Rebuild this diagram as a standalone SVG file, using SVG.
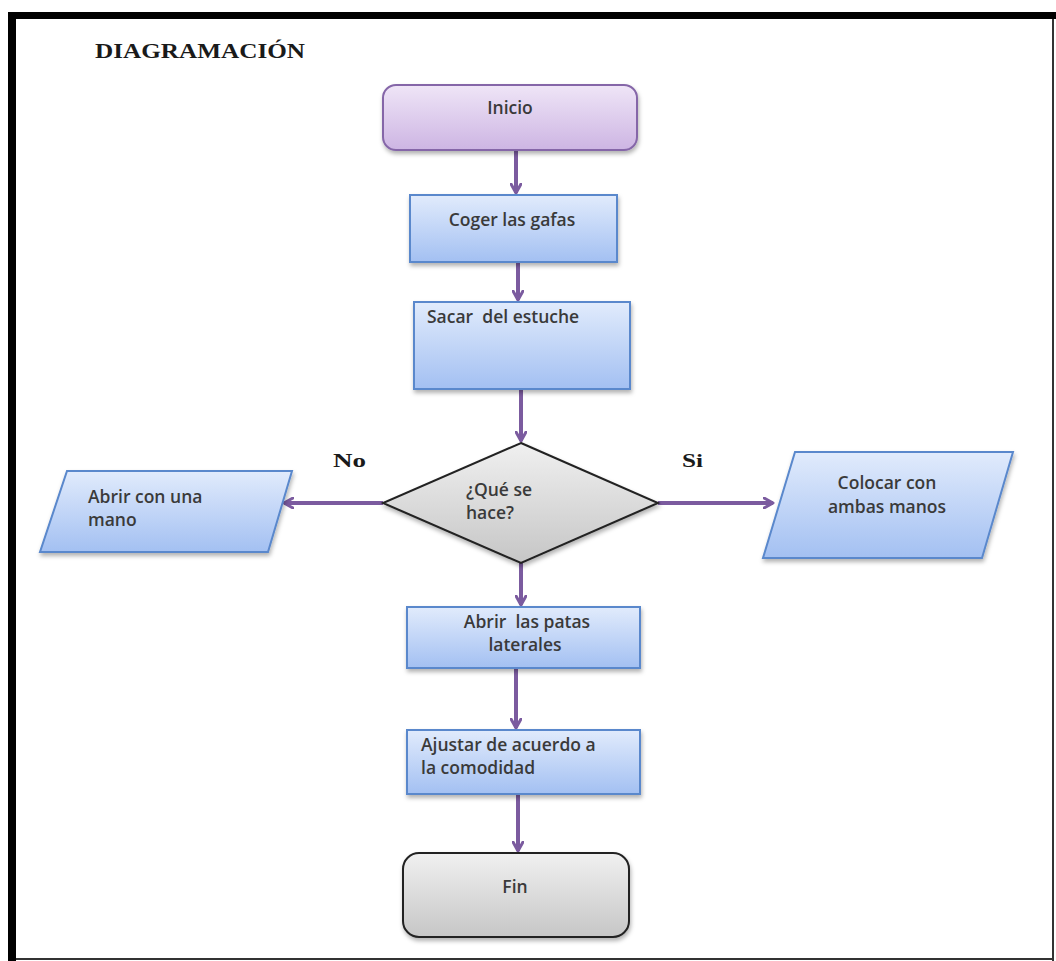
<svg xmlns="http://www.w3.org/2000/svg" width="1056" height="961" viewBox="0 0 1056 961">
<defs>
<linearGradient id="gBlue" x1="0" y1="0" x2="0" y2="1"><stop offset="0" stop-color="#e1ebfc"/><stop offset="1" stop-color="#a3c0f2"/></linearGradient>
<linearGradient id="gPurple" x1="0" y1="0" x2="0" y2="1"><stop offset="0" stop-color="#efe5f7"/><stop offset="1" stop-color="#cdb5e3"/></linearGradient>
<linearGradient id="gGray" x1="0" y1="0" x2="0" y2="1"><stop offset="0" stop-color="#f0f0f0"/><stop offset="1" stop-color="#c6c6c6"/></linearGradient>
<filter id="sh" x="-10%" y="-10%" width="130%" height="140%"><feDropShadow dx="1" dy="3" stdDeviation="2" flood-color="#000" flood-opacity="0.3"/></filter>
<marker id="arr" viewBox="0 0 12 12" refX="10" refY="6" markerWidth="12" markerHeight="12" markerUnits="userSpaceOnUse" orient="auto"><path d="M1,1 L10,6 L1,11" fill="none" stroke="#7b5b9f" stroke-width="3" stroke-linecap="round" stroke-linejoin="round"/></marker>
<style>
.blue{fill:url(#gBlue);stroke:#5a88cc;stroke-width:2}
.t{font-family:"Open Sans","Liberation Sans",sans-serif;font-size:17.5px;font-weight:600;fill:#3a3a3a}
.s{font-family:"Liberation Serif",serif;font-weight:bold;fill:#1a1a1a}
.c{fill:none;stroke:#7b5b9f;stroke-width:4;marker-end:url(#arr)}
</style>
</defs>
<rect width="1056" height="961" fill="#fff"/>
<g id="frame">
<rect x="8" y="12" width="1048" height="7" fill="#000"/>
<rect x="8" y="12" width="8" height="949" fill="#000"/>
<rect x="1052" y="19" width="2" height="942" fill="#333"/>
<rect x="16" y="958" width="1038" height="2" fill="#333"/>
</g>
<text id="title" class="s" x="95" y="58" font-size="22" textLength="210" lengthAdjust="spacingAndGlyphs">DIAGRAMACIÓN</text>
<g id="connectors">
<line class="c" x1="516" y1="150" x2="516" y2="193"/>
<line class="c" x1="518" y1="262" x2="518" y2="300"/>
<line class="c" x1="521" y1="389" x2="521" y2="441"/>
<line class="c" x1="521" y1="563" x2="521" y2="605"/>
<line class="c" x1="516" y1="668" x2="516" y2="728"/>
<line class="c" x1="518" y1="795" x2="518" y2="851"/>
<line class="c" x1="383" y1="503" x2="284" y2="503"/>
<line class="c" x1="658" y1="503" x2="773" y2="503"/>
<text class="s" x="333" y="467" font-size="18" textLength="33" lengthAdjust="spacingAndGlyphs">No</text>
<text class="s" x="682" y="467" font-size="18" textLength="21" lengthAdjust="spacingAndGlyphs">Si</text>
</g>
<g id="inicio">
<rect x="383" y="85" width="254" height="65" rx="13" fill="url(#gPurple)" stroke="#8566a8" stroke-width="2" filter="url(#sh)"/>
<text class="t" x="510" y="114" text-anchor="middle">Inicio</text>
</g>
<g id="coger">
<rect class="blue" x="410" y="195" width="207" height="67" filter="url(#sh)"/>
<text class="t" x="512" y="226" text-anchor="middle">Coger las gafas</text>
</g>
<g id="sacar">
<rect class="blue" x="414" y="302" width="216" height="87" filter="url(#sh)"/>
<text class="t" x="427" y="323" xml:space="preserve">Sacar  del estuche</text>
</g>
<g id="decision">
<polygon points="521,443 658,503 521,563 383,503" fill="url(#gGray)" stroke="#222" stroke-width="2" filter="url(#sh)"/>
<text class="t" x="466" y="496">¿Qué se</text>
<text class="t" x="466" y="519">hace?</text>
</g>
<g id="abrir-mano">
<polygon class="blue" points="67,471 292,471 268,552 40,552" filter="url(#sh)"/>
<text class="t" x="88" y="503">Abrir con una</text>
<text class="t" x="88" y="526">mano</text>
</g>
<g id="colocar">
<polygon class="blue" points="795,452 1013,452 982,558 763,558" filter="url(#sh)"/>
<text class="t" x="887" y="489" text-anchor="middle">Colocar con</text>
<text class="t" x="887" y="513" text-anchor="middle">ambas manos</text>
</g>
<g id="patas">
<rect class="blue" x="407" y="607" width="233" height="61" filter="url(#sh)"/>
<text class="t" x="527" y="628" text-anchor="middle" xml:space="preserve">Abrir  las patas</text>
<text class="t" x="525" y="651" text-anchor="middle">laterales</text>
</g>
<g id="ajustar">
<rect class="blue" x="407" y="730" width="233" height="64" filter="url(#sh)"/>
<text class="t" x="421" y="751">Ajustar de acuerdo a</text>
<text class="t" x="421" y="774">la comodidad</text>
</g>
<g id="fin">
<rect x="403" y="853" width="226" height="84" rx="16" fill="url(#gGray)" stroke="#222" stroke-width="2" filter="url(#sh)"/>
<text class="t" x="515" y="893" text-anchor="middle">Fin</text>
</g>
</svg>
